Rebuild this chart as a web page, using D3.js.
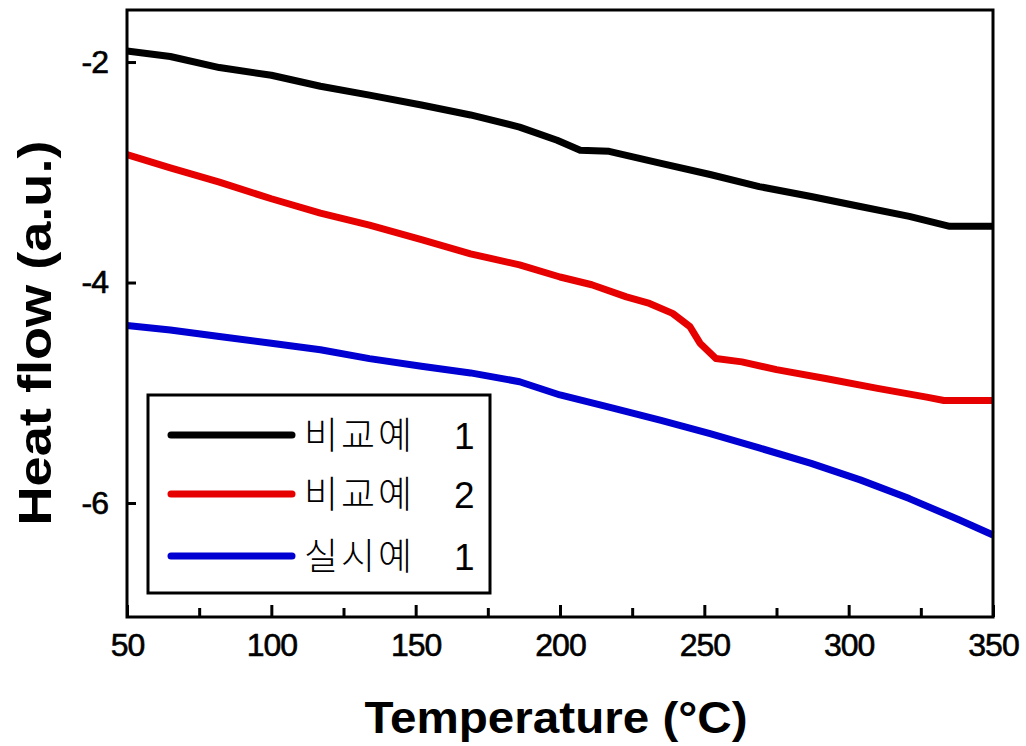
<!DOCTYPE html>
<html>
<head>
<meta charset="utf-8">
<script src="https://cdn.jsdelivr.net/npm/d3@7"></script>
<style>
  html, body { margin: 0; padding: 0; background: #fff; }
  svg { display: block; }
</style>
</head>
<body>
<svg id="chart" width="1026" height="746"></svg>
<script>
// DSC heat-flow curves, temperature in °C, heat flow in a.u.
const seriesNames = ["비교예", "비교예", "실시예"];
const seriesNumbers = ["1", "2", "1"];
const seriesColors = ["#000000", "#e60000", "#0000d2"];

const tempA = [50, 65, 82, 100, 117, 134, 152, 169, 186, 199, 207, 217, 235, 252, 269, 287, 304, 321, 335, 350];
const flowA = [-1.90, -1.95, -2.05, -2.12, -2.22, -2.30, -2.39, -2.48, -2.59, -2.71, -2.80, -2.81, -2.92, -3.02, -3.13, -3.22, -3.31, -3.40, -3.49, -3.49];

const tempB = [50, 65, 82, 100, 117, 134, 152, 169, 186, 200, 211, 223, 231, 239, 245, 248.5, 254, 263, 275, 292, 310, 327, 333, 350];
const flowB = [-2.84, -2.96, -3.09, -3.24, -3.37, -3.48, -3.61, -3.74, -3.84, -3.95, -4.02, -4.13, -4.19, -4.28, -4.40, -4.55, -4.69, -4.72, -4.79, -4.87, -4.96, -5.04, -5.07, -5.07];

const tempC = [50, 65, 82, 100, 117, 134, 152, 169, 186, 200, 217, 235, 252, 269, 287, 304, 321, 338, 350];
const flowC = [-4.39, -4.43, -4.49, -4.55, -4.61, -4.69, -4.76, -4.82, -4.90, -5.02, -5.13, -5.25, -5.37, -5.50, -5.64, -5.79, -5.96, -6.15, -6.29];

const xMajorTicks = [50, 100, 150, 200, 250, 300, 350];
const xMinorTicks = [75, 125, 175, 225, 275, 325];
const yTicks = [-2, -4, -6];

const xTitle = "Temperature (°C)";
const yTitle = "Heat flow (a.u.)";

const curves = [
  { temps: tempA, flows: flowA },
  { temps: tempB, flows: flowB },
  { temps: tempC, flows: flowC }
].map((c, i) => ({
  points: c.temps.map((t, j) => [t, c.flows[j]]),
  color: seriesColors[i],
  name: seriesNames[i],
  num: seriesNumbers[i]
}));

const svg = d3.select("#chart");
const plot = { left: 127, right: 993, top: 10, bottom: 617 };

const x = d3.scaleLinear().domain([50, 350]).range([plot.left, plot.right]);
const y = d3.scaleLinear().domain([-7.034, -1.528]).range([plot.bottom, plot.top]);

const tickFont = "'Liberation Sans', Arial, sans-serif";

// curves
const line = d3.line().x(d => x(d[0])).y(d => y(d[1])).curve(d3.curveLinear);
svg.append("g").selectAll("path")
  .data(curves)
  .join("path")
  .attr("d", d => line(d.points))
  .attr("fill", "none")
  .attr("stroke", d => d.color)
  .attr("stroke-width", 7)
  .attr("stroke-linejoin", "round")
  .attr("stroke-linecap", "butt");

// bottom axis: inward ticks
const xAxis = svg.append("g")
  .attr("transform", `translate(0,${plot.bottom})`)
  .call(d3.axisBottom(x).tickValues(xMajorTicks).tickSize(-12).tickPadding(16).tickFormat(d3.format("d")));
const xMinor = svg.append("g")
  .attr("transform", `translate(0,${plot.bottom})`)
  .call(d3.axisBottom(x).tickValues(xMinorTicks).tickSize(-9).tickFormat(""));

// left axis: inward ticks
const yAxis = svg.append("g")
  .attr("transform", `translate(${plot.left},0)`)
  .call(d3.axisLeft(y).tickValues(yTicks).tickSize(-9).tickPadding(19).tickFormat(d => "-" + Math.abs(d)));

[xAxis, xMinor, yAxis].forEach(g => {
  g.select(".domain").remove();
  g.selectAll(".tick line").attr("stroke", "#000").attr("stroke-width", 3);
  g.selectAll("text")
    .attr("fill", "#000")
    .attr("stroke", "#000")
    .attr("stroke-width", 0.6)
    .style("font-family", tickFont)
    .style("font-size", "32px")
    .style("letter-spacing", "-1px");
});

// frame
svg.append("rect")
  .attr("x", plot.left)
  .attr("y", plot.top)
  .attr("width", plot.right - plot.left)
  .attr("height", plot.bottom - plot.top)
  .attr("fill", "none")
  .attr("stroke", "#000")
  .attr("stroke-width", 3);

// axis titles
svg.append("text")
  .attr("x", 556)
  .attr("y", 733)
  .attr("text-anchor", "middle")
  .attr("textLength", 383)
  .attr("lengthAdjust", "spacingAndGlyphs")
  .style("font-family", tickFont)
  .style("font-weight", "bold")
  .style("font-size", "44px")
  .text(xTitle);

svg.append("text")
  .attr("transform", "translate(51,333) rotate(-90)")
  .attr("text-anchor", "middle")
  .attr("textLength", 385)
  .attr("lengthAdjust", "spacingAndGlyphs")
  .style("font-family", tickFont)
  .style("font-weight", "bold")
  .style("font-size", "47px")
  .text(yTitle);

// legend
const legend = svg.append("g");
legend.append("rect")
  .attr("x", 148).attr("y", 395)
  .attr("width", 342).attr("height", 198)
  .attr("fill", "#fff")
  .attr("stroke", "#000")
  .attr("stroke-width", 3);

const rowY = [435, 494, 556];
const rows = legend.selectAll("g.row")
  .data(curves)
  .join("g")
  .attr("class", "row")
  .attr("transform", (d, i) => `translate(0,${rowY[i]})`);

rows.append("line")
  .attr("x1", 171).attr("x2", 292)
  .attr("y1", 0).attr("y2", 0)
  .attr("stroke", d => d.color)
  .attr("stroke-width", 7)
  .attr("stroke-linecap", "round");

const labels = rows.append("text")
  .attr("y", 14)
  .style("font-family", "'Liberation Sans', 'Noto Sans CJK KR', sans-serif")
  .style("font-size", "37px")
  .attr("fill", "#000");
labels.append("tspan")
  .attr("x", 304)
  .style("font-family", "'Noto Sans CJK KR', sans-serif")
  .style("font-weight", "300")
  .style("letter-spacing", "3px")
  .text(d => d.name);
labels.append("tspan")
  .attr("x", 454)
  .text(d => d.num);
</script>
</body>
</html>
